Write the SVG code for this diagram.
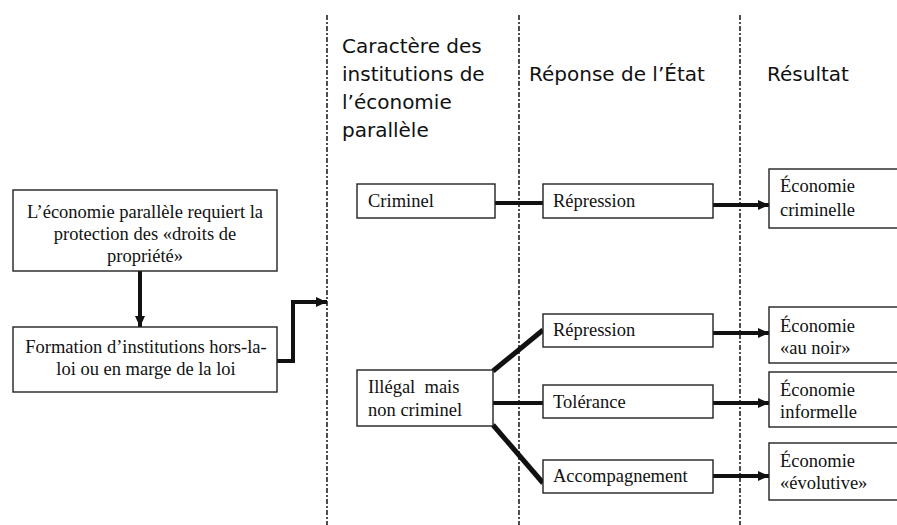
<svg xmlns="http://www.w3.org/2000/svg" width="897" height="525" viewBox="0 0 897 525">
<defs>
<marker id="ah" markerUnits="userSpaceOnUse" markerWidth="12" markerHeight="12" viewBox="0 0 12 12" refX="11" refY="6" orient="auto">
<path d="M0,1 L11,6 L0,11 Z" fill="#111"/>
</marker>
<style>
.box{fill:#fff;stroke:#222;stroke-width:1.4}
.sep{stroke:#222;stroke-width:1.6;stroke-dasharray:5 2 2 2;fill:none}
.hd{font-family:"DejaVu Sans",Verdana,sans-serif;font-size:20px;fill:#111}
.tx{font-family:"Liberation Serif","Times New Roman",serif;font-size:18.5px;fill:#111}
.c{text-anchor:middle}
.ln{stroke:#111;stroke-width:4;fill:none}
.ar{stroke:#111;stroke-width:4;fill:none;marker-end:url(#ah)}
</style>
</defs>
<rect width="897" height="525" fill="#fff"/>
<g id="separators">
<line class="sep" x1="327" y1="15" x2="327" y2="525"/>
<line class="sep" x1="519" y1="15" x2="519" y2="525"/>
<line class="sep" x1="740" y1="15" x2="740" y2="525"/>
</g>
<g id="headers">
<text class="hd" x="342" y="53">Caractère des</text>
<text class="hd" x="342" y="81">institutions de</text>
<text class="hd" x="342" y="109">l’économie</text>
<text class="hd" x="342" y="137">parallèle</text>
<text class="hd" x="529" y="81">Réponse de l’État</text>
<text class="hd" x="767" y="81">Résultat</text>
</g>
<g id="connectors">
<line class="ar" x1="140" y1="271" x2="140" y2="327"/>
<polyline class="ar" points="277,361 293,361 293,302 327,302"/>
<line class="ln" x1="495" y1="203" x2="543" y2="203"/>
<line class="ar" x1="713" y1="205" x2="769" y2="205"/>
<line class="ln" x1="493" y1="371" x2="543" y2="330" style="stroke-width:5"/>
<line class="ln" x1="493" y1="403" x2="543" y2="403"/>
<line class="ln" x1="493" y1="425" x2="543" y2="483" style="stroke-width:5"/>
<line class="ar" x1="713" y1="333" x2="769" y2="333"/>
<line class="ar" x1="713" y1="403" x2="769" y2="403"/>
<line class="ar" x1="713" y1="476" x2="769" y2="476"/>
</g>
<g id="n-besoin">
<rect class="box" x="13" y="190" width="264" height="81"/>
<text class="tx c" x="145" y="218">L’économie parallèle requiert la</text>
<text class="tx c" x="145" y="240">protection des «droits de</text>
<text class="tx c" x="145" y="262">propriété»</text>
</g>
<g id="n-formation">
<rect class="box" x="13" y="327" width="264" height="65"/>
<text class="tx c" x="146" y="353">Formation d’institutions hors-la-</text>
<text class="tx c" x="146" y="375">loi ou en marge de la loi</text>
</g>
<g id="n-criminel">
<rect class="box" x="357" y="184" width="138" height="34"/>
<text class="tx" x="368" y="207">Criminel</text>
</g>
<g id="n-illegal">
<rect class="box" x="357" y="370" width="136" height="56"/>
<text class="tx" x="368" y="393" xml:space="preserve">Illégal  mais</text>
<text class="tx" x="368" y="416">non criminel</text>
</g>
<g id="n-repression1">
<rect class="box" x="543" y="184" width="170" height="34"/>
<text class="tx" x="553" y="207">Répression</text>
</g>
<g id="n-repression2">
<rect class="box" x="543" y="314" width="170" height="33"/>
<text class="tx" x="553" y="336">Répression</text>
</g>
<g id="n-tolerance">
<rect class="box" x="543" y="385" width="170" height="33"/>
<text class="tx" x="553" y="408">Tolérance</text>
</g>
<g id="n-accompagnement">
<rect class="box" x="543" y="460" width="170" height="33"/>
<text class="tx" x="553" y="482">Accompagnement</text>
</g>
<g id="n-eco-criminelle">
<rect class="box" x="769" y="169" width="140" height="59"/>
<text class="tx" x="780" y="192">Économie</text>
<text class="tx" x="780" y="216">criminelle</text>
</g>
<g id="n-eco-noir">
<rect class="box" x="769" y="307" width="140" height="56"/>
<text class="tx" x="780" y="332">Économie</text>
<text class="tx" x="780" y="354">«au noir»</text>
</g>
<g id="n-eco-informelle">
<rect class="box" x="769" y="372" width="140" height="55"/>
<text class="tx" x="780" y="396">Économie</text>
<text class="tx" x="780" y="418">informelle</text>
</g>
<g id="n-eco-evolutive">
<rect class="box" x="769" y="443" width="140" height="57"/>
<text class="tx" x="780" y="467">Économie</text>
<text class="tx" x="780" y="489">«évolutive»</text>
</g>
</svg>
